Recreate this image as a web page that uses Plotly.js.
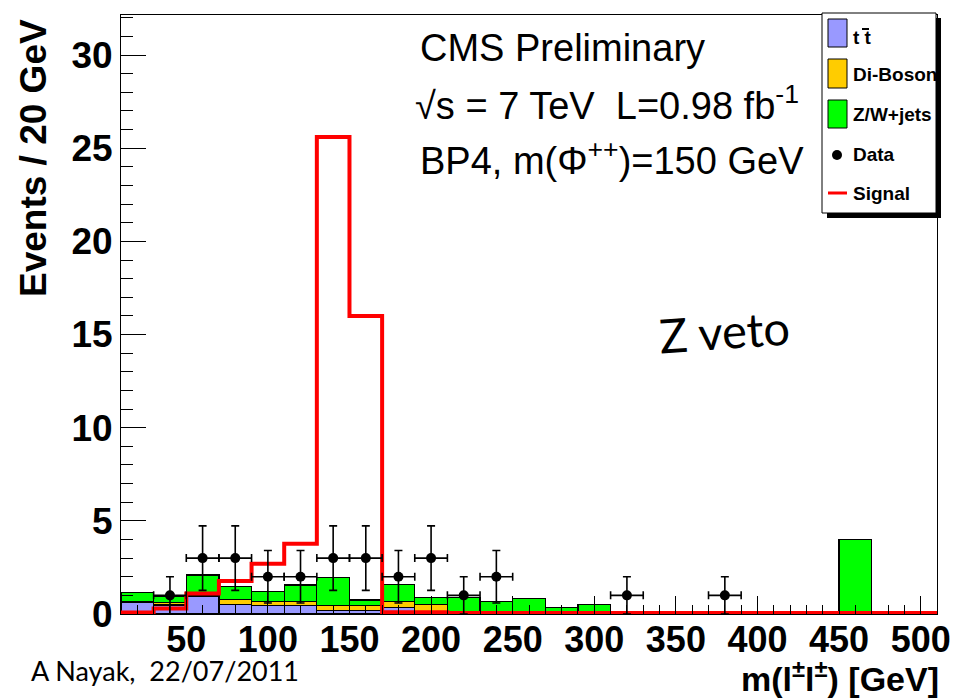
<!DOCTYPE html>
<html><head><meta charset="utf-8">
<script src="https://cdn.plot.ly/plotly-3.0.1.min.js"></script>
<style>html,body{margin:0;padding:0;background:#fff}#chart{width:955px;height:700px}</style>
</head><body><div id="chart"></div>
<script>
// ---- data ----
const binCenters = [20,40,60,80,100,120,140,160,180,200,220,240,260,280,300,320,340,360,380,400,420,440,460,480,500];
const ttbar   = [0.63,0.48,0.97,0.52,0.45,0.45,0.20,0.20,0.35,0.03,0,0,0,0,0,0,0,0,0,0,0,0,0,0,0];
const diboson = [0.05,0.12,0.03,0.27,0.20,0.20,0.25,0.25,0.30,0.47,0.12,0.12,0.12,0.15,0.02,0,0,0,0,0,0,0,0,0,0];
const zwjets  = [0.47,0.35,1.09,0.68,0.55,0.91,1.53,0.30,0.95,0.40,0.78,0.56,0.72,0.20,0.50,0,0,0,0,0,0,0,4.0,0,0];
const signal  = [0.08,0.30,1.10,1.77,2.70,3.77,25.6,16.0,0.10,0.10,0.06,0.06,0.06,0.06,0.06,0.06,0.06,0.06,0.06,0.06,0.06,0.06,0.06,0.06,0.06];
const dataX   = [40,60,80,100,120,140,160,180,200,220,240,320,380];
const dataY   = [1,3,3,2,2,3,3,2,3,1,2,1,1];
const dataErr = [1,1.73,1.73,1.41,1.41,1.73,1.73,1.41,1.73,1,1.41,1,1];
const xTickVals = [50,100,150,200,250,300,350,400,450,500];
const yTickVals = [0,5,10,15,20,25,30];
const binWidth = 20;

// ---- helpers for pixel placement of decorations ----
const L = 121, R = 937, T = 15, B = 614;
const px = v => (v - L) / (R - L);
const py = v => (B - v) / (B - T);

const sigX = binCenters.map(c => c - binWidth/2).concat([binCenters[binCenters.length-1] + binWidth/2]);
const sigY = signal.concat([signal[signal.length-1]]);

const barLine = {color:'black', width:1.2};
const traces = [
  {type:'bar', x:binCenters, y:ttbar, marker:{color:'#9999ff', line:barLine}, hoverinfo:'skip'},
  {type:'bar', x:binCenters, y:diboson, marker:{color:'#ffcc00', line:barLine}, hoverinfo:'skip'},
  {type:'bar', x:binCenters, y:zwjets, marker:{color:'#00ff00', line:barLine}, hoverinfo:'skip'},
  {type:'scatter', mode:'lines', x:sigX, y:sigY, line:{shape:'hv', color:'#ff0000', width:4}, hoverinfo:'skip'},
  {type:'scatter', mode:'markers', x:dataX, y:dataY, cliponaxis:false,
   marker:{color:'black', size:10},
   error_y:{type:'data', array:dataErr, color:'black', thickness:1.6, width:4},
   error_x:{type:'constant', value:binWidth/2, color:'black', thickness:1.6, width:4},
   hoverinfo:'skip'}
];

const yTickFont = {family:'Liberation Sans, Arial, sans-serif', size:37, color:'black', weight:'bold'};
const xTickFont = {family:'Liberation Sans, Arial, sans-serif', size:36, color:'black', weight:'bold'};
const legFont = {family:'Liberation Sans, Arial, sans-serif', size:19, color:'black', weight:'bold'};
const txtFont = {family:'Liberation Sans, Arial, sans-serif', size:38, color:'black'};

const ann = (x, y, text, font, extra) => Object.assign({xref:'paper', yref:'paper', x:px(x), y:py(y), text:text, showarrow:false, font:font, xanchor:'left', yanchor:'middle'}, extra||{});

const annotations = [
  ann(418, 48, 'CMS Preliminary', txtFont),
  ann(413, 103, '√s = 7 TeV  L=0.98 fb<sup>-1</sup>', txtFont),
  ann(418, 158, 'BP4, m(Φ<sup>++</sup>)=150 GeV', txtFont),
  ann(724, 331, 'Z veto', {family:'Lato, sans-serif', size:47, color:'black'}, {xanchor:'center', textangle:-4}),
  ann(33, 158, 'Events / 20 GeV', {family:'Liberation Sans, Arial, sans-serif', size:37, color:'black', weight:'bold'}, {xanchor:'center', textangle:-90}),
  ann(941, 676, 'm(l<sup>±</sup>l<sup>±</sup>) [GeV]', {family:'Liberation Sans, Arial, sans-serif', size:34, color:'black', weight:'bold'}, {xanchor:'right'}),
  ann(29, 670, 'A Nayak,  22/07/2011', {family:'Lato, sans-serif', size:27, color:'black'}),
  ann(851, 38, 't t', legFont),
  ann(851, 74, 'Di-Boson', legFont),
  ann(851, 114, 'Z/W+jets', legFont),
  ann(851, 155, 'Data', legFont),
  ann(851, 193, 'Signal', legFont)
];

const rect = (x0, y0, x1, y1, fill, lw) => ({type:'rect', xref:'paper', yref:'paper', x0:px(x0), x1:px(x1), y0:py(y1), y1:py(y0), fillcolor:fill, line:{color:'black', width:lw}, layer:'above'});
const shapes = [
  rect(936, 18, 941, 218, 'black', 0),
  rect(827, 213, 941, 218, 'black', 0),
  rect(822, 13, 936, 213, 'white', 1),
  rect(828, 19, 847, 47, '#9999ff', 1),
  rect(828, 59, 847, 88, '#ffcc00', 1),
  rect(828, 100, 847, 128, '#00ff00', 1),
  {type:'circle', xref:'paper', yref:'paper', x0:px(832), x1:px(842), y0:py(160), y1:py(150), fillcolor:'black', line:{color:'black', width:0}, layer:'above'},
  {type:'line', xref:'paper', yref:'paper', x0:px(828), x1:px(847), y0:py(193), y1:py(193), line:{color:'#ff0000', width:3}, layer:'above'},
  {type:'line', xref:'paper', yref:'paper', x0:px(862), x1:px(869), y0:py(29), y1:py(29), line:{color:'black', width:2}, layer:'above'}
];

const layout = {
  width:955, height:700,
  margin:{l:L, r:955-R, t:T, b:700-B, pad:0},
  paper_bgcolor:'white', plot_bgcolor:'white',
  showlegend:false, barmode:'stack', bargap:0,
  xaxis:{range:[10,510], tickmode:'array', tickvals:xTickVals, ticktext:xTickVals.map(String),
    ticks:'inside', ticklen:18, tickwidth:1, tickcolor:'black', ticklabelstandoff:-6,
    showline:true, linecolor:'black', linewidth:1, mirror:true, showgrid:false, zeroline:false,
    tickfont:xTickFont,
    minor:{tick0:0, dtick:10, ticks:'inside', ticklen:9, tickwidth:1, tickcolor:'black', showgrid:false}},
  yaxis:{range:[0,32.15], tickmode:'array', tickvals:yTickVals, ticktext:yTickVals.map(String),
    ticks:'inside', ticklen:25, tickwidth:1, tickcolor:'black',
    showline:true, linecolor:'black', linewidth:1, mirror:true, showgrid:false, zeroline:false,
    tickfont:yTickFont,
    minor:{tick0:0, dtick:1, ticks:'inside', ticklen:12, tickwidth:1, tickcolor:'black', showgrid:false}},
  annotations:annotations,
  shapes:shapes
};

Plotly.newPlot('chart', traces, layout, {staticPlot:true, displayModeBar:false});
</script>
</body></html>
